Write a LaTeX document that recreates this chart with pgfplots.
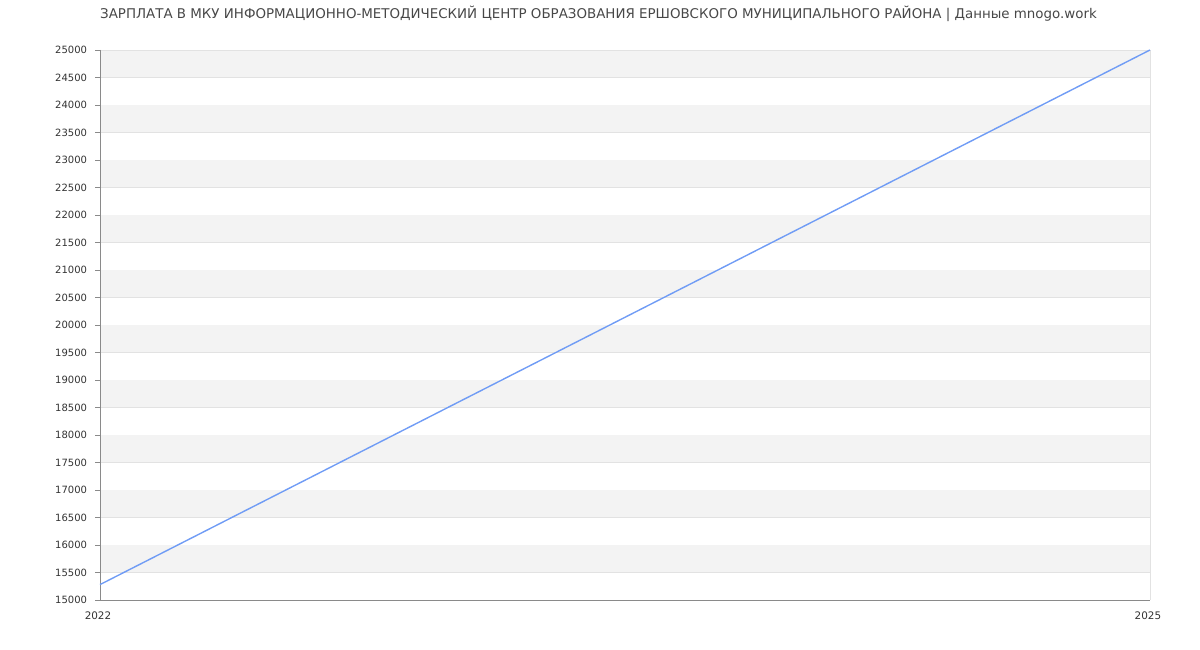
\documentclass[border=0pt]{standalone}
\usepackage{fontspec}
\setmainfont{DejaVu Sans}
\usepackage{pgfplots}
\pgfplotsset{compat=1.18}
\definecolor{band}{HTML}{F3F3F3}
\definecolor{gridc}{HTML}{E2E2E2}
\definecolor{axisc}{HTML}{8A8A8A}
\definecolor{linec}{HTML}{709CF5}
\definecolor{textc}{HTML}{333333}
\begin{document}
\begin{tikzpicture}
\path[use as bounding box] (0,0) rectangle (1200bp,650bp);
\node[text=textc!90, font=\fontsize{13.4bp}{15bp}\selectfont] at (598.5bp,636bp)
  {ЗАРПЛАТА В МКУ ИНФОРМАЦИОННО-МЕТОДИЧЕСКИЙ ЦЕНТР ОБРАЗОВАНИЯ ЕРШОВСКОГО МУНИЦИПАЛЬНОГО РАЙОНА | Данные mnogo.work};
\begin{axis}[
  at={(100bp,50bp)}, anchor=south west,
  scale only axis, width=1050bp, height=550bp,
  xmin=2022, xmax=2025, ymin=15000, ymax=25000,
  xtick={2022,2025}, ytick distance=500,
  scaled y ticks=false,
  xticklabel style={/pgf/number format/1000 sep={}, font=\fontsize{10.4bp}{12bp}\selectfont, xshift=-2bp},
  yticklabel style={/pgf/number format/1000 sep={}, /pgf/number format/fixed, font=\fontsize{10bp}{12bp}\selectfont},
  /pgf/number format/assume math mode=true,
  ticklabel style={text=textc},
  xtick style={draw=none},
  ytick style={draw=axisc, line width=0.6pt},
  ytick align=outside, major tick length=5bp,
  tick pos=left,
  axis line style={draw=none},
  ymajorgrids, grid style={draw=gridc, line width=0.6pt},
  xticklabel shift=8bp, yticklabel shift=4.5bp,
  clip=false,
]
% alternating background bands
\fill[band] (axis cs:2022,15500) rectangle (axis cs:2025,16000);
\fill[band] (axis cs:2022,16500) rectangle (axis cs:2025,17000);
\fill[band] (axis cs:2022,17500) rectangle (axis cs:2025,18000);
\fill[band] (axis cs:2022,18500) rectangle (axis cs:2025,19000);
\fill[band] (axis cs:2022,19500) rectangle (axis cs:2025,20000);
\fill[band] (axis cs:2022,20500) rectangle (axis cs:2025,21000);
\fill[band] (axis cs:2022,21500) rectangle (axis cs:2025,22000);
\fill[band] (axis cs:2022,22500) rectangle (axis cs:2025,23000);
\fill[band] (axis cs:2022,23500) rectangle (axis cs:2025,24000);
\fill[band] (axis cs:2022,24500) rectangle (axis cs:2025,25000);
\draw[gridc, line width=0.6pt] (axis cs:2022,25000) -- (axis cs:2025,25000) -- (axis cs:2025,15000);
\draw[axisc, line width=0.6pt] (axis cs:2022,25000) -- (axis cs:2022,15000) -- (axis cs:2025,15000);
\addplot[linec, line width=1.4bp] coordinates {(2022,15280) (2025,25000)};
\end{axis}
\end{tikzpicture}
\end{document}
